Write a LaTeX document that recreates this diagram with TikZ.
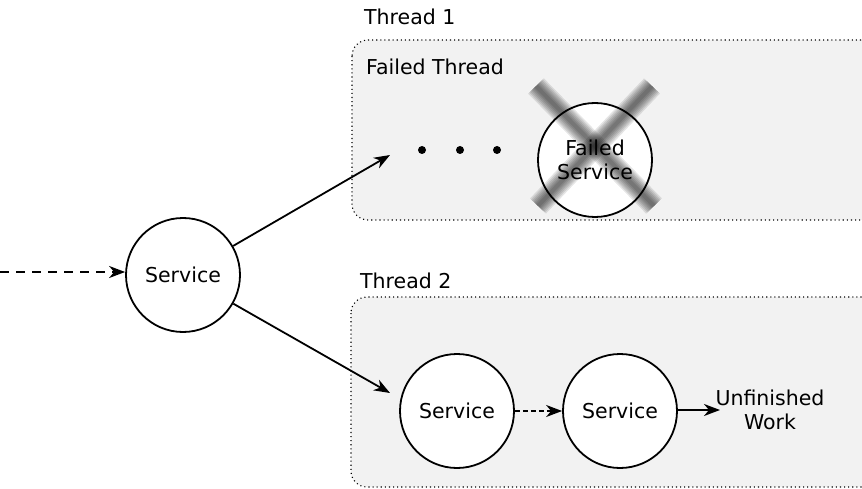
\documentclass[tikz,border=0pt]{standalone}
\usepackage{fontspec}
\setmainfont{DejaVu Sans}
\usetikzlibrary{arrows.meta}
\begin{document}
\begin{tikzpicture}[x=1pt,y=-1pt,
  svc/.style={circle,draw,line width=1.8pt,fill=white,minimum size=114pt,inner sep=0pt,font=\fontsize{20.5}{24}\selectfont,align=center},
  thread/.style={draw,line width=1.1pt,dash pattern=on 1.1pt off 3pt,fill=black!5,rounded corners=16pt},
  lbl/.style={font=\fontsize{20.5}{24}\selectfont,anchor=west,inner sep=0pt},
  arr/.style={line width=1.8pt,-{Stealth[length=16pt,width=12pt,inset=5pt]}},
  dotnode/.style={circle,fill=black,minimum size=8pt,inner sep=0pt}]
\clip (0,0) rectangle (862,489);
\useasboundingbox (0,0) rectangle (862,489);
\fill[white] (0,0) rectangle (862,489);
\draw[thread] (352,40) rectangle (900,220);
\draw[thread] (351,297) rectangle (900,487);
\node[lbl] (t1) at (364,17) {Thread 1};
\node[lbl] (ft) at (366,67) {Failed Thread};
\node[lbl] (t2) at (360,281) {Thread 2};
\node[svc] (s0) at (183,275) {Service};
\node[svc] (fs) at (595,160) {Failed\\Service};
\node[svc] (s1) at (457,411) {Service};
\node[svc] (s2) at (620,411) {Service};
\node[dotnode] (d1) at (422,150) {};
\node[dotnode] (d2) at (460,150) {};
\node[dotnode] (d3) at (497,150) {};
\node[font=\fontsize{20.5}{24}\selectfont,align=center,inner sep=0pt] (uw) at (770,410) {Unfinished\\Work};
\coordinate (in) at (0,272);
\coordinate (e1) at (390,155);
\coordinate (e2) at (390,393);
\coordinate (e3) at (720,410);
\draw[arr,dash pattern=on 9pt off 7pt] (in) -- (s0.west |- in);
\draw[arr] (s0) -- (e1);
\draw[arr] (s0) -- (e2);
\draw[arr,dash pattern=on 5pt off 3pt] (s1) -- (s2);
\draw[arr] (s2.east |- e3) -- (e3);
\coordinate (xa) at (536,86);
\coordinate (xb) at (654,206);
\coordinate (xc) at (652,86);
\coordinate (xd) at (538,206);
\foreach \w in {22,19,16,13,10,7,4}{
  \draw[black,opacity=0.1,line width=\w pt] (xa) -- (xb);
  \draw[black,opacity=0.1,line width=\w pt] (xc) -- (xd);
}
\end{tikzpicture}
\end{document}
